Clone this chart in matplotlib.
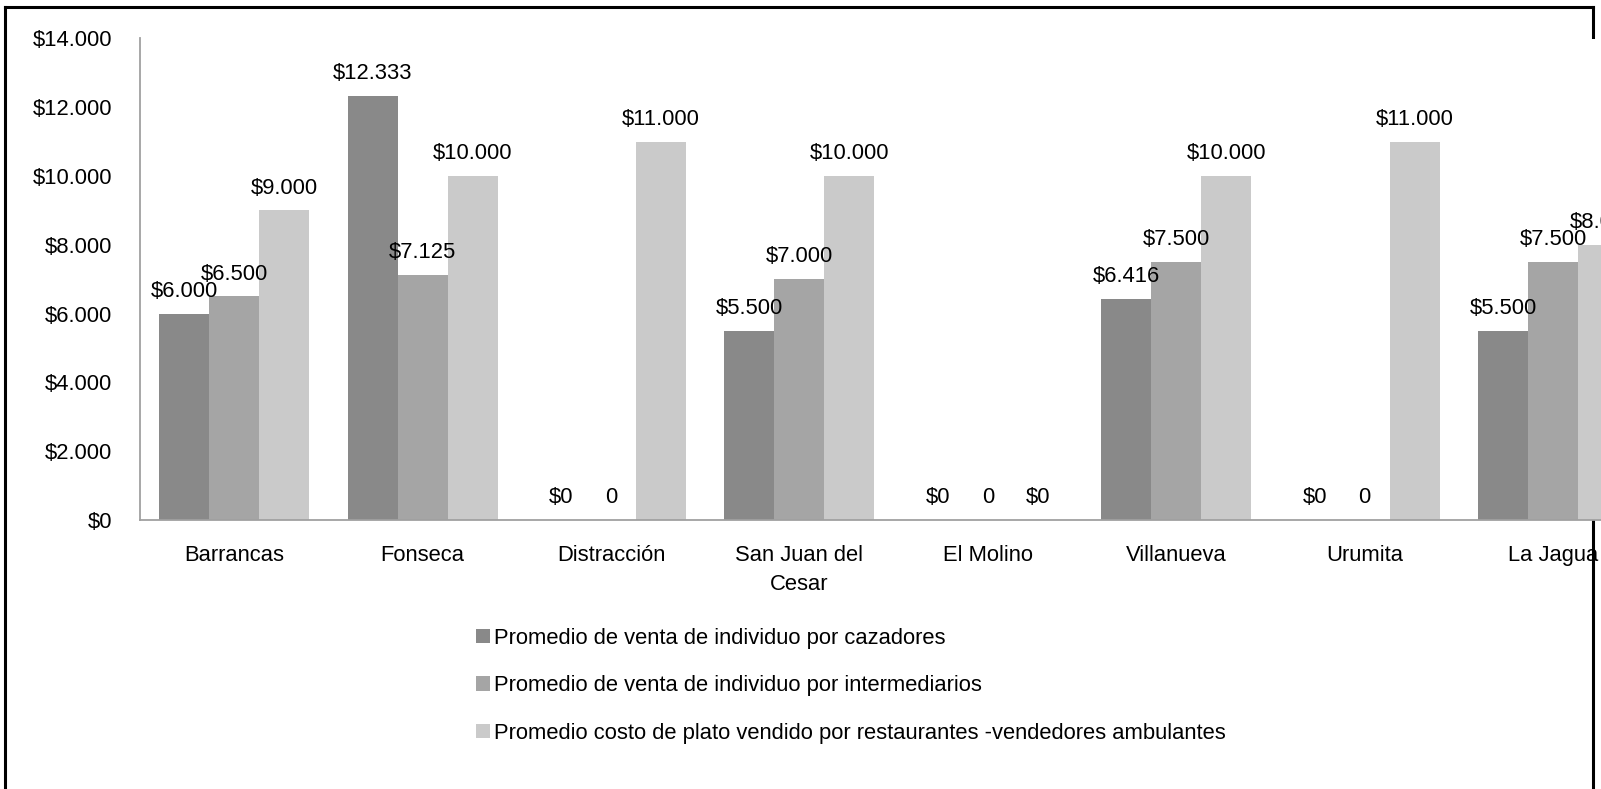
import matplotlib
matplotlib.use("Agg")
import matplotlib.pyplot as plt
from matplotlib.patches import Patch
from matplotlib.lines import Line2D
import numpy as np

categories = ["Barrancas", "Fonseca", "Distracción", "San Juan del\nCesar",
              "El Molino", "Villanueva", "Urumita", "La Jagua"]
cazadores = [6000, 12333, 0, 5500, 0, 6416, 0, 5500]
intermediarios = [6500, 7125, 0, 7000, 0, 7500, 0, 7500]
restaurantes = [9000, 10000, 11000, 10000, 0, 10000, 11000, 8000]
series_names = ["Promedio de venta de individuo por cazadores",
                "Promedio de venta de individuo por intermediarios",
                "Promedio costo de plato vendido por restaurantes -vendedores ambulantes"]
zero_labels = ["$0", "0", "$0"]
y_ticks = [0, 2000, 4000, 6000, 8000, 10000, 12000, 14000]

colors = ["#898989", "#A5A5A5", "#CACACA"]
FS = 15.8
plt.rcParams['font.family'] = ['Liberation Sans', 'DejaVu Sans']

def money(v):
    return "$" + f"{v:,.0f}".replace(",", ".")

W, H = 1601, 789
fig = plt.figure(figsize=(W / 100, H / 100), dpi=100)

# outer frame (drawn beneath axes)
lw = 2.2
fr = dict(color="black", lw=lw, zorder=-5, solid_capstyle="projecting")
fig.add_artist(Line2D([5 / W, 5 / W], [1 - 7 / H, -0.1], transform=fig.transFigure, **fr))
fig.add_artist(Line2D([5 / W, 1593 / W], [1 - 7 / H, 1 - 7 / H], transform=fig.transFigure, **fr))
fig.add_artist(Line2D([1593 / W, 1593 / W], [1 - 7 / H, -0.1], transform=fig.transFigure, **fr))

left = 140 / W
width = 8 * 188.4 / W
bottom = (H - 520) / H
height = (520 - 38.5) / H
ax = fig.add_axes([left, bottom, width, height])
ax.set_facecolor("white")
ax.set_zorder(1)

x = np.arange(len(categories))
bw = 50 / 188.4
all_series = [cazadores, intermediarios, restaurantes]
for i, (vals, c, name, zl) in enumerate(zip(all_series, colors, series_names, zero_labels)):
    pos = x + (i - 1) * bw
    ax.bar(pos, vals, width=bw, color=c, label=name, edgecolor="none")
    for p, v in zip(pos, vals):
        txt = money(v) if v != 0 else zl
        ax.annotate(txt, (p, v), xytext=(0, 12.2), textcoords="offset points",
                    ha="center", va="baseline", fontsize=FS, color="black",
                    annotation_clip=False)

ax.set_xlim(-0.5, len(categories) - 0.5)
ax.set_ylim(0, 14000)
ax.set_yticks(y_ticks)
ax.set_yticklabels([money(v) for v in y_ticks])
ax.set_xticks(x)
ax.set_xticklabels(categories, linespacing=1.5)
ax.tick_params(axis="both", length=0, labelsize=FS, colors="black")
ax.tick_params(axis="y", pad=20)
ax.tick_params(axis="x", pad=18)
for s in ["top", "right"]:
    ax.spines[s].set_visible(False)
for s in ["left", "bottom"]:
    ax.spines[s].set_color("#A0A0A0")
    ax.spines[s].set_linewidth(1.3)

handles = [Patch(facecolor=c, edgecolor="none") for c in colors]
fig.legend(handles, series_names, loc="upper left",
           bbox_to_anchor=(476 / W, 1 - 628 / H), frameon=False,
           fontsize=FS, handlelength=0.62, handleheight=0.62,
           handletextpad=0.22, labelspacing=1.2, borderaxespad=0, borderpad=0)

fig.savefig("out.png", dpi=100)
